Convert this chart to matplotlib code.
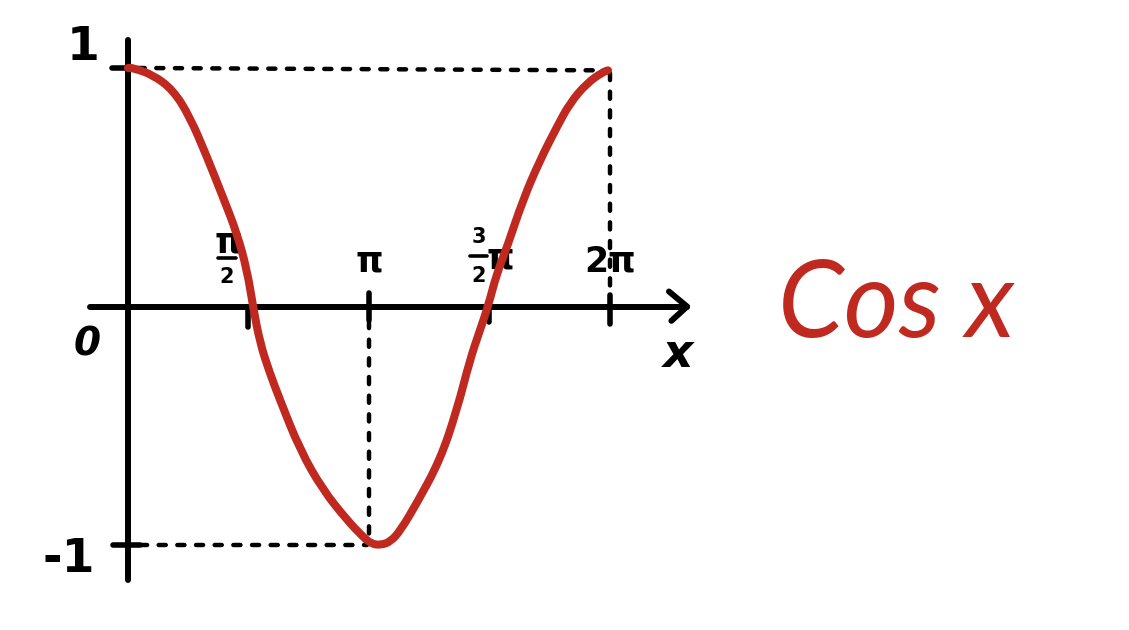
import matplotlib
matplotlib.use("Agg")
import matplotlib.pyplot as plt
from matplotlib.path import Path
from matplotlib.patches import PathPatch

# curve (x in units of pi, y = value)
curve_x = [0.0, 0.021, 0.104, 0.187, 0.257, 0.328, 0.394, 0.452, 0.494, 0.519,
           0.548, 0.589, 0.631, 0.714, 0.809, 0.909, 0.975, 1.01, 1.05, 1.09, 1.13, 1.199,
           1.295, 1.365, 1.419, 1.457, 1.494, 1.531, 1.573, 1.639, 1.710, 1.780,
           1.834, 1.905, 1.971, 1.992]
curve_y = [1.0, 1.0, 0.971, 0.908, 0.795, 0.627, 0.459, 0.308, 0.153, 0.0,
           -0.153, -0.28, -0.392, -0.601, -0.769, -0.895, -0.965, -0.995, -1.0, -0.985, -0.94, -0.824,
           -0.644, -0.434, -0.224, -0.11, 0.0, 0.140, 0.249, 0.447, 0.614, 0.753,
           0.853, 0.937, 0.983, 0.99]

tick_pos = [0.5, 1.0, 1.5, 2.0]
y_labels = ["1", "-1"]
title_text = "Cos x"

RED = "#C0291F"

fig = plt.figure(figsize=(11.29, 6.30), dpi=100)
ax = fig.add_axes([0, 0, 1, 1])
ax.set_xlim(-0.531, 4.154)
ax.set_ylim(-1.356, 1.285)
ax.axis("off")

# axes
ax.plot([0, 0], [-1.147, 1.117], color="black", lw=4.3, solid_capstyle="round", zorder=3)
ax.plot([-0.158, 2.32], [0, 0], color="black", lw=4.3, solid_capstyle="round", zorder=3)
ax.plot([2.245, 2.32, 2.255], [0.063, 0, -0.06], color="black", lw=4.3,
        solid_capstyle="round", solid_joinstyle="round", zorder=3)

# ticks on x axis
tick_ext = {0.5: (0.0, -0.085), 1.0: (0.055, -0.055), 1.5: (0.0, -0.065), 2.0: (0.05, -0.075)}
for t in tick_pos:
    top, bot = tick_ext[t]
    ax.plot([t, t], [bot, top], color="black", lw=4.0, solid_capstyle="round", zorder=3)

# ticks on y axis
ax.plot([-0.066, 0.0], [1.0, 1.0], color="black", lw=4.0, solid_capstyle="round", zorder=3)
ax.plot([-0.062, 0.05], [-1.0, -1.0], color="black", lw=4.0, solid_capstyle="round", zorder=3)

# dashed guide lines
dash = dict(color="black", lw=3.2, linestyle=(0, (1.6, 2.6)), dash_capstyle="round", zorder=2)
ax.plot([0.04, 1.988], [1.0, 0.99], **dash)
ax.plot([2.0, 2.0], [0.98, 0.05], **dash)
ax.plot([1.0, 1.0], [-0.06, -0.99], **dash)
ax.plot([0.05, 0.99], [-1.0, -1.0], **dash)

# curve: smooth stroke through the read points (quadratic segments between midpoints)
pts = list(zip(curve_x, curve_y))
verts = [pts[0]]
codes = [Path.MOVETO]
mid = lambda a, b: ((a[0] + b[0]) / 2, (a[1] + b[1]) / 2)
verts.append(mid(pts[0], pts[1]))
codes.append(Path.LINETO)
for i in range(1, len(pts) - 1):
    verts += [pts[i], mid(pts[i], pts[i + 1])]
    codes += [Path.CURVE3, Path.CURVE3]
verts.append(pts[-1])
codes.append(Path.LINETO)
ax.add_patch(PathPatch(Path(verts, codes), facecolor="none", edgecolor=RED, lw=5.8,
                       capstyle="round", joinstyle="round", zorder=4))

# y labels
ax.text(-0.187, 1.085, y_labels[0], fontsize=34, fontweight="heavy", ha="center", va="center")
ax.text(-0.245, -1.06, y_labels[1], fontsize=34, fontweight="heavy", ha="center", va="center")
ax.text(-0.17, -0.16, "0", fontsize=28, fontstyle="italic", fontweight="bold",
        ha="center", va="center")

# x tick labels (hand-written style fractions)
big = dict(fontsize=25, fontweight="bold", ha="center", va="center", zorder=3)
small = dict(fontsize=15, fontweight="bold", ha="center", va="center", zorder=3)
bar = dict(color="black", lw=2.6, solid_capstyle="round", zorder=3)
# pi/2
ax.text(0.415, 0.27, "π", **big)
ax.plot([0.375, 0.45], [0.205, 0.205], **bar)
ax.text(0.41, 0.125, "2", **small)
# pi
ax.text(1.0, 0.19, "π", **big)
# 3/2 pi
ax.text(1.455, 0.29, "3", **small)
ax.plot([1.42, 1.49], [0.21, 0.21], **bar)
ax.text(1.455, 0.13, "2", **small)
ax.text(1.545, 0.2, "π", **big)
# 2 pi
ax.text(2.0, 0.19, "2π", **big)

ax.text(2.282, -0.2, "x", fontsize=34, fontstyle="italic", fontweight="bold",
        ha="center", va="center")

ax.text(3.19, 0.0, title_text, fontsize=76, color=RED, fontstyle="italic",
        family=["Lato", "DejaVu Sans"], ha="center", va="center")

fig.savefig("out.png", dpi=100, facecolor="white")
